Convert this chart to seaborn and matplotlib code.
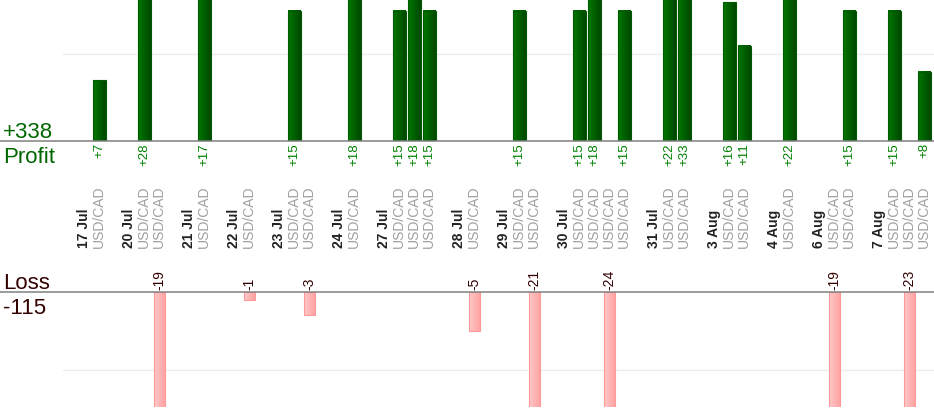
import numpy as np
import pandas as pd
import matplotlib
matplotlib.use('Agg')
import matplotlib.pyplot as plt
import matplotlib.transforms as mtransforms
from matplotlib.colors import LinearSegmentedColormap
import seaborn as sns

# trades, in order, with the day they closed on
trade_day = ['17 Jul', '20 Jul', '20 Jul', '21 Jul', '22 Jul', '23 Jul', '23 Jul',
             '24 Jul', '27 Jul', '27 Jul', '27 Jul', '28 Jul', '29 Jul', '29 Jul',
             '30 Jul', '30 Jul', '30 Jul', '30 Jul', '31 Jul', '31 Jul', '3 Aug',
             '3 Aug', '4 Aug', '6 Aug', '6 Aug', '7 Aug', '7 Aug', '7 Aug']
trade_pnl = [7, 28, -19, 17, -1, 15, -3, 18, 15, 18, 15, -5, 15, -21,
             15, 18, -24, 15, 22, 33, 16, 11, 22, -19, 15, 15, -23, 8]
pair = 'USD/CAD'

# lay out slots: day label, its trades, then a blank slot
days = list(dict.fromkeys(trade_day))
rows, day_slot = [], {}
slot = 0
for d in days:
    day_slot[d] = slot
    slot += 1
    for day, pnl in zip(trade_day, trade_pnl):
        if day == d:
            rows.append((slot, pnl))
            slot += 1
    slot += 1
n_slots = slot
df = pd.DataFrame(rows, columns=['slot', 'pnl'])
wins = df[df.pnl > 0]
losses = df[df.pnl < 0]

sns.set_style('white')
plt.rcParams['font.family'] = ['Liberation Sans', 'DejaVu Sans']

W, H = 934, 420
fig = plt.figure(figsize=(W / 100, H / 100), dpi=100)
ax_top = fig.add_axes([0, (H - 141) / H, 1, 141 / H])
ax_bot = fig.add_axes([0, (H - 407) / H, 1, 115 / H])

order = list(range(n_slots))
sns.barplot(data=wins, x='slot', y='pnl', order=order, width=0.85, color='#006600',
            saturation=1, errorbar=None, ax=ax_top)
sns.barplot(data=losses, x='slot', y='pnl', order=order, width=0.7, color='#ffb0b0',
            saturation=1, errorbar=None, ax=ax_bot)

# horizontal gradient fill like the original bars
green = LinearSegmentedColormap.from_list('g', ['#007800', '#004800'])
pink = LinearSegmentedColormap.from_list('p', ['#ffc8c8', '#ffa4a4'])
grad = np.linspace(0, 1, 32).reshape(1, -1)
for ax, cmap, edge in [(ax_top, green, '#005a00'), (ax_bot, pink, '#ff9a9a')]:
    for p in list(ax.patches):
        x0, y0, w, h = p.get_x(), p.get_y(), p.get_width(), p.get_height()
        if h == 0 or np.isnan(h):
            continue
        ax.imshow(grad, extent=[x0, x0 + w, min(y0, y0 + h), max(y0, y0 + h)],
                  aspect='auto', cmap=cmap, zorder=2)
        p.set_facecolor('none')
        p.set_edgecolor(edge)
        p.set_linewidth(0.8)
        p.set_zorder(3)

px_per_slot = 15
x_left = -84.3 / px_per_slot
x_right = (W - 84.3) / px_per_slot
for ax in (ax_top, ax_bot):
    ax.set_xlim(x_left, x_right)
    ax.set_axis_off()
ax_top.set_ylim(0, 141 / 8.67)
ax_bot.set_ylim(-115 / 7.8, 0)

grid_start = 63 / W
ax_top.axhline(10, xmin=grid_start, color='#ececec', lw=1, zorder=0)
ax_bot.axhline(-10, xmin=grid_start, color='#ececec', lw=1, zorder=0)
ax_top.axhline(0, color='#808080', lw=1.1, clip_on=False, zorder=4)
ax_bot.axhline(0, color='#808080', lw=1.1, clip_on=False, zorder=4)

for s, v in zip(wins.slot, wins.pnl):
    ax_top.text(s, -0.25, f'+{v}', rotation=90, ha='center', va='top',
                color='#008000', fontsize=9.5)
for s, v in zip(losses.slot, losses.pnl):
    ax_bot.text(s, 0.3, f'{v}', rotation=90, ha='center', va='bottom',
                color='#330000', fontsize=10)

# day and pair labels under the profit chart
tr = mtransforms.blended_transform_factory(ax_top.transData, fig.transFigure)
y_lab = (H - 248) / H
for d in days:
    ax_top.text(day_slot[d], y_lab, d, transform=tr, rotation=90, ha='center',
                va='bottom', fontsize=10, fontweight='bold', color='#222222')
for s in df.slot:
    ax_top.text(s, y_lab, pair, transform=tr, rotation=90, ha='center',
                va='bottom', fontsize=10, color='#a0a0a0')

fig.text(3 / W, (H - 138) / H, f'+{wins.pnl.sum()}', fontsize=16, color='#006600', va='baseline')
fig.text(3 / W, (H - 163) / H, 'Profit', fontsize=16, color='#006600', va='baseline')
fig.text(3 / W, (H - 289) / H, 'Loss', fontsize=16, color='#330000', va='baseline')
fig.text(3 / W, (H - 314) / H, f'{losses.pnl.sum()}', fontsize=16, color='#330000', va='baseline')

fig.savefig('out.png', dpi=100)
